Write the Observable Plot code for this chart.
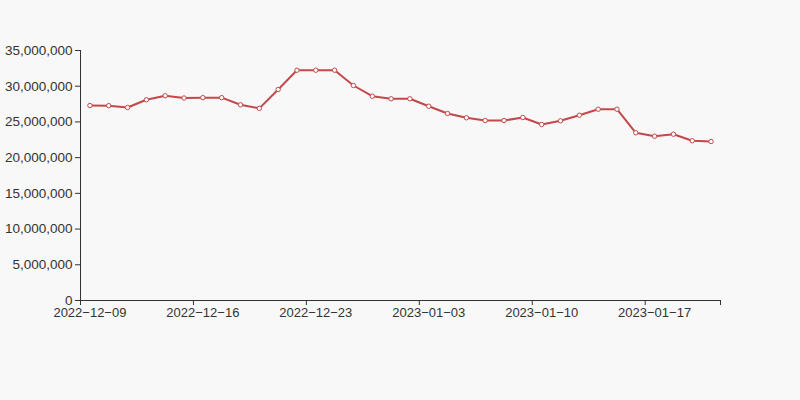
<!DOCTYPE html>
<html>
<head>
<meta charset="utf-8">
<script src="https://cdn.jsdelivr.net/npm/d3@7"></script>
<script src="https://cdn.jsdelivr.net/npm/@observablehq/plot@0.6"></script>
<style>
  html, body { margin: 0; padding: 0; background: #f8f8f8; }
  #chart { width: 800px; height: 400px; }
</style>
</head>
<body>
<div id="chart"></div>
<script>
const dates = [
  "2022-12-09","2022-12-11","2022-12-12","2022-12-13","2022-12-14","2022-12-15",
  "2022-12-16","2022-12-18","2022-12-19","2022-12-20","2022-12-21","2022-12-22",
  "2022-12-23","2022-12-26","2022-12-27","2022-12-28","2022-12-29","2022-12-30",
  "2023-01-03","2023-01-04","2023-01-05","2023-01-06","2023-01-08","2023-01-09",
  "2023-01-10","2023-01-11","2023-01-12","2023-01-13","2023-01-15","2023-01-16",
  "2023-01-17","2023-01-18","2023-01-19","2023-01-20"
];
const values = [
  27300000, 27280000, 27020000, 28100000, 28660000, 28350000,
  28400000, 28400000, 27400000, 26900000, 29540000, 32240000,
  32240000, 32240000, 30100000, 28600000, 28240000, 28240000,
  27200000, 26180000, 25580000, 25200000, 25200000, 25620000,
  24640000, 25160000, 25940000, 26780000, 26780000, 23480000,
  23000000, 23280000, 22360000, 22260000
];
const yTicks = [0, 5000000, 10000000, 15000000, 20000000, 25000000, 30000000, 35000000];
const labelIndex = [0, 6, 12, 18, 24, 30];

const data = dates.map((d, i) => ({i, date: d, value: values[i]}));
const boundaryTicks = labelIndex.map(i => i - 0.5).concat([dates.length - 0.5]);

const lineColor = "#c4474a";
const axisColor = "#333";

const chart = Plot.plot({
  width: 800,
  height: 400,
  marginLeft: 80,
  marginRight: 80,
  marginTop: 50,
  marginBottom: 100,
  style: {background: "#f8f8f8", fontFamily: "Liberation Sans, Arial, sans-serif", fontSize: "13px", color: axisColor},
  x: {type: "linear", domain: [-0.5, dates.length - 0.5]},
  y: {domain: [0, 35000000]},
  marks: [
    Plot.axisY({ticks: yTicks, tickSize: 5, tickPadding: 3, tickFormat: d3.format(","), label: null, stroke: axisColor, fill: axisColor, fontSize: 13.5}),
    Plot.ruleX([-0.5], {stroke: axisColor}),
    Plot.axisX({ticks: boundaryTicks, tickSize: 5, tickFormat: () => "", label: null, stroke: axisColor}),
    Plot.axisX({ticks: labelIndex, tickSize: 0, tickPadding: 7, tickFormat: i => dates[i].replace(/-/g, "\u2212"), label: null, fill: axisColor, fontSize: 13}),
    Plot.ruleY([0], {stroke: axisColor}),
    Plot.line(data, {x: "i", y: "value", stroke: lineColor, strokeWidth: 2}),
    Plot.dot(data, {x: "i", y: "value", r: 2.2, fill: "white", stroke: lineColor, strokeWidth: 1})
  ]
});
document.getElementById("chart").appendChild(chart);
</script>
</body>
</html>
